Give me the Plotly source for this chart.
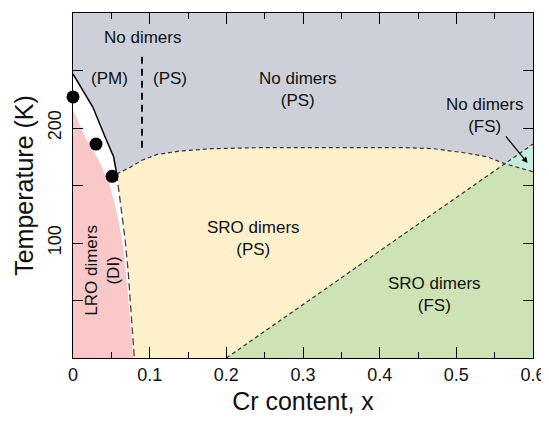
import plotly.graph_objects as go

# ---- data ----
# solid transition line (upper edge of white band)
tn_x = [0.0, 0.013, 0.026, 0.042, 0.053, 0.057]
tn_T = [247, 232, 218, 192, 175, 160]
# dashed structural line (right edge of white band)
sp_x = [0.057, 0.060, 0.064, 0.068, 0.072, 0.076, 0.080]
sp_T = [160, 145, 125, 103, 75, 40, 0]
# pink (LRO) region edge
pk_x = [0.0, 0.016, 0.035, 0.048, 0.056, 0.062, 0.066, 0.071, 0.075, 0.0785]
pk_T = [216, 192, 170, 150, 130, 110, 95, 60, 30, 0]
# dimer onset boundary (gray / yellow)
dm_x = [0.057, 0.075, 0.09, 0.11, 0.14, 0.18, 0.25, 0.35, 0.43, 0.47, 0.51, 0.54, 0.563, 0.6]
dm_T = [160, 166, 172, 177, 180, 182, 183, 183, 183, 182, 178.5, 175, 169, 162]
# PS / FS boundary (diagonal)
fs_x = [0.2, 0.563, 0.6]
fs_T = [0, 169, 186]
# measured points
pt_x = [0.0, 0.03, 0.051]
pt_T = [227, 186, 158]
# vertical PM/PS separator
vs_x = [0.09, 0.09]
vs_T = [262, 181]

x_ticks = [0, 0.1, 0.2, 0.3, 0.4, 0.5, 0.6]
x_labels = ["0", "0.1", "0.2", "0.3", "0.4", "0.5", "0.6"]
y_ticks = [100, 200]
y_labels = ["100", "200"]

GRAY = "#cdd0d9"
PINK = "#fac8c8"
YELLOW = "#fff0cc"
GREEN = "#cde3b5"
CYAN = "#c6eedf"
FONT = "Liberation Sans, Arial, sans-serif"

fig = go.Figure()

def poly(xs, ys, color):
    fig.add_trace(go.Scatter(x=xs, y=ys, fill="toself", fillcolor=color, mode="none",
                             hoverinfo="skip", showlegend=False))

# yellow region (SRO PS)
i_int = dm_x.index(0.563)
yx = sp_x[::-1] + dm_x[1:i_int + 1] + [fs_x[0]]
yy = sp_T[::-1] + dm_T[1:i_int + 1] + [fs_T[0]]
poly(yx, yy, YELLOW)
# green region (SRO FS)
gx = [fs_x[0], fs_x[1]] + dm_x[i_int + 1:] + [0.6]
gy = [fs_T[0], fs_T[1]] + dm_T[i_int + 1:] + [0]
poly(gx, gy, GREEN)
# cyan region (No dimers FS)
cx = [fs_x[1], fs_x[2]] + dm_x[i_int + 1:][::-1]
cy = [fs_T[1], fs_T[2]] + dm_T[i_int + 1:][::-1]
poly(cx, cy, CYAN)
# white band
wx = tn_x + sp_x[1:] + [0.0]
wy = tn_T + sp_T[1:] + [0]
poly(wx, wy, "white")
# pink region
poly(pk_x + [0.0], pk_T + [0], PINK)

# boundary lines
fig.add_trace(go.Scatter(x=dm_x, y=dm_T, mode="lines", line=dict(color="#333", width=1.2, dash="4px,3px"),
                         hoverinfo="skip", showlegend=False))
fig.add_trace(go.Scatter(x=fs_x, y=fs_T, mode="lines", line=dict(color="#333", width=1.2, dash="4px,3px"),
                         hoverinfo="skip", showlegend=False))
fig.add_trace(go.Scatter(x=sp_x, y=sp_T, mode="lines", line=dict(color="#444", width=1.3, dash="7px,4px"),
                         hoverinfo="skip", showlegend=False))
fig.add_trace(go.Scatter(x=tn_x, y=tn_T, mode="lines", line=dict(color="black", width=1.5),
                         hoverinfo="skip", showlegend=False))
fig.add_trace(go.Scatter(x=vs_x, y=vs_T, mode="lines", line=dict(color="black", width=1.8, dash="7px,5px"),
                         hoverinfo="skip", showlegend=False))
fig.add_trace(go.Scatter(x=pt_x, y=pt_T, mode="markers", marker=dict(color="black", size=13),
                         cliponaxis=False, hoverinfo="skip", showlegend=False))

tf = dict(family=FONT, size=17, color="#111")
def label(x, y, text, angle=0):
    fig.add_annotation(x=x, y=y, text=text, showarrow=False, font=tf, textangle=angle,
                       xref="x", yref="y")

label(0.091, 279, "No dimers")
label(0.047, 243, "(PM)")
label(0.127, 243, "(PS)")
label(0.293, 233.5, "No dimers<br>(PS)")
label(0.235, 104, "SRO dimers<br>(PS)")
label(0.472, 55.5, "SRO dimers<br>(FS)")
label(0.537, 210.5, "No dimers<br>(FS)")
label(0.038, 76, "LRO dimers<br>(DI)", angle=-90)

fig.add_annotation(x=0.593, y=169.5, ax=0.563, ay=194, xref="x", yref="y", axref="x", ayref="y",
                   text="", showarrow=True, arrowhead=2, arrowsize=1, arrowwidth=1.2, arrowcolor="black")

axis_common = dict(showgrid=False, zeroline=False, showline=True, linecolor="black", linewidth=1,
                   mirror="ticks", ticks="inside", tickcolor="black", automargin=False,
                   tickfont=dict(family=FONT, size=18, color="#111"))
fig.update_xaxes(range=[0, 0.6], tickvals=x_ticks, ticktext=x_labels, ticklen=11,
                 minor=dict(dtick=0.05, tick0=0, ticklen=6, ticks="inside", tickcolor="black"),
                 title=dict(text="Cr content, x", font=dict(family=FONT, size=25, color="#111"), standoff=8),
                 **axis_common)
fig.update_yaxes(range=[0, 300], tickvals=y_ticks, ticktext=y_labels, ticklen=10, tickangle=-90,
                 ticklabelstandoff=4,
                 minor=dict(dtick=50, tick0=0, ticklen=10, ticks="inside", tickcolor="black"),
                 title=dict(text="Temperature (K)", font=dict(family=FONT, size=25, color="#111"), standoff=4),
                 **axis_common)

# the page body adds an 8px margin, so the figure is sized/margined to compensate
fig.update_layout(width=541, height=415, margin=dict(l=65, r=16, t=5, b=65),
                  plot_bgcolor=GRAY, paper_bgcolor="white", showlegend=False)

fig.write_html("out.html")
